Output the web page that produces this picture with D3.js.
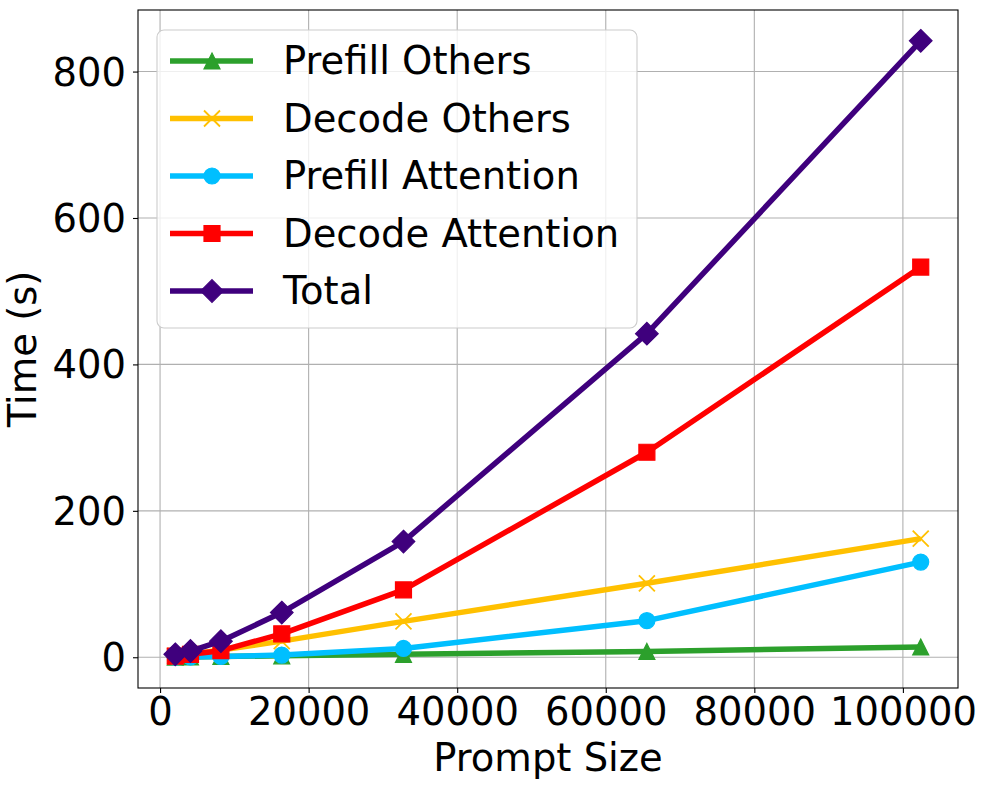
<!DOCTYPE html>
<html>
<head>
<meta charset="utf-8">
<script src="https://cdn.jsdelivr.net/npm/d3@7"></script>
<style>
  body { margin: 0; background: #fff; }
  svg { display: block; font-family: "DejaVu Sans", sans-serif; }
</style>
</head>
<body>
<div id="chart"></div>
<script>
const width = 986;
const height = 790;
const fontSize = "38.5px";

// data
const promptSizes = [2048, 4096, 8192, 16384, 32768, 65536, 102400];
const prefillOthers = [0.3, 0.5, 1, 2, 4, 8, 14];
const decodeOthers = [2, 4, 10, 22, 49, 101, 162];
const prefillAttention = [0.1, 0.3, 1, 3, 12, 50, 130];
const decodeAttention = [1.5, 4, 9, 32, 92, 280, 533];
const total = [4, 8.5, 22, 61, 158, 442, 842];

const xTicks = [0, 20000, 40000, 60000, 80000, 100000];
const yTicks = [0, 200, 400, 600, 800];

const series = [
  { name: "Prefill Others", values: prefillOthers, color: "#2ca02c", marker: "triangle" },
  { name: "Decode Others", values: decodeOthers, color: "#ffc000", marker: "x" },
  { name: "Prefill Attention", values: prefillAttention, color: "#00bfff", marker: "circle" },
  { name: "Decode Attention", values: decodeAttention, color: "#ff0000", marker: "square" },
  { name: "Total", values: total, color: "#3f007d", marker: "diamond" }
];

const margin = { top: 10, right: 28, bottom: 102, left: 138 };
const innerW = width - margin.left - margin.right;
const innerH = height - margin.top - margin.bottom;

const svg = d3.select("#chart")
  .append("svg")
  .attr("width", width)
  .attr("height", height);

const g = svg.append("g")
  .attr("transform", `translate(${margin.left},${margin.top})`);

// matplotlib-like 5% padding on both axes
const xMin = d3.min(promptSizes), xMax = d3.max(promptSizes);
const xPad = (xMax - xMin) * 0.05;
const allY = series.flatMap(s => s.values);
const yMin = d3.min(allY), yMax = d3.max(allY);
const yPad = (yMax - yMin) * 0.05;

const x = d3.scaleLinear().domain([xMin - xPad, xMax + xPad]).range([0, innerW]);
const y = d3.scaleLinear().domain([yMin - yPad, yMax + yPad]).range([innerH, 0]);

// grid
g.append("g")
  .selectAll("line")
  .data(xTicks)
  .join("line")
  .attr("x1", d => x(d)).attr("x2", d => x(d))
  .attr("y1", 0).attr("y2", innerH)
  .attr("stroke", "#b0b0b0").attr("stroke-width", 1.1);

g.append("g")
  .selectAll("line")
  .data(yTicks)
  .join("line")
  .attr("y1", d => y(d)).attr("y2", d => y(d))
  .attr("x1", 0).attr("x2", innerW)
  .attr("stroke", "#b0b0b0").attr("stroke-width", 1.1);

// axes
const xAxis = g.append("g")
  .attr("transform", `translate(0,${innerH})`)
  .call(d3.axisBottom(x).tickValues(xTicks).tickFormat(d3.format("d")).tickSize(5).tickSizeOuter(0));
const yAxis = g.append("g")
  .call(d3.axisLeft(y).tickValues(yTicks).tickFormat(d3.format("d")).tickSize(5).tickSizeOuter(0));

[xAxis, yAxis].forEach(a => {
  a.select(".domain").remove();
  a.selectAll(".tick line").attr("stroke", "#000").attr("stroke-width", 1.1);
  a.selectAll(".tick text")
    .attr("fill", "#000")
    .style("font-family", "DejaVu Sans")
    .style("font-size", fontSize);
});
xAxis.selectAll(".tick text").attr("y", 10).attr("dy", "0.71em");
yAxis.selectAll(".tick text").attr("x", -12).attr("dy", "0.35em");

// markers
function markerPath(type, s) {
  const r = s / 2;
  const p = d3.path();
  if (type === "triangle") {
    p.moveTo(0, -r); p.lineTo(r, r); p.lineTo(-r, r); p.closePath();
  } else if (type === "square") {
    p.rect(-r, -r, s, s);
  } else if (type === "diamond") {
    const d = r * Math.SQRT2;
    p.moveTo(0, -d); p.lineTo(d, 0); p.lineTo(0, d); p.lineTo(-d, 0); p.closePath();
  } else if (type === "circle") {
    p.arc(0, 0, r, 0, 2 * Math.PI);
  } else if (type === "x") {
    p.moveTo(-r, -r); p.lineTo(r, r); p.moveTo(r, -r); p.lineTo(-r, r);
  }
  return p.toString();
}

function drawMarker(sel, type, color) {
  sel.append("path")
    .attr("d", markerPath(type, 16))
    .attr("fill", type === "x" ? "none" : color)
    .attr("stroke", color)
    .attr("stroke-width", type === "x" ? 1.8 : 1.2)
    .attr("stroke-linejoin", "miter");
}

const line = d3.line()
  .x((d, i) => x(promptSizes[i]))
  .y(d => y(d));

series.forEach(s => {
  const sg = g.append("g");
  sg.append("path")
    .attr("d", line(s.values))
    .attr("fill", "none")
    .attr("stroke", s.color)
    .attr("stroke-width", 5.5)
    .attr("stroke-linejoin", "round");
  sg.selectAll("g.pt")
    .data(s.values)
    .join("g")
    .attr("class", "pt")
    .attr("transform", (d, i) => `translate(${x(promptSizes[i])},${y(d)})`)
    .each(function () { drawMarker(d3.select(this), s.marker, s.color); });
});

// frame
g.append("rect")
  .attr("width", innerW).attr("height", innerH)
  .attr("fill", "none").attr("stroke", "#000").attr("stroke-width", 1.1);

// axis labels
svg.append("text")
  .attr("x", margin.left + innerW / 2)
  .attr("y", 771)
  .attr("text-anchor", "middle")
  .style("font-size", fontSize)
  .text("Prompt Size");

svg.append("text")
  .attr("transform", `translate(36,${margin.top + innerH / 2}) rotate(-90)`)
  .attr("text-anchor", "middle")
  .style("font-size", fontSize)
  .text("Time (s)");

// legend
const legend = svg.append("g").attr("transform", "translate(157,30)");
legend.append("rect")
  .attr("width", 480).attr("height", 298)
  .attr("rx", 7)
  .attr("fill", "#fff").attr("fill-opacity", 0.8)
  .attr("stroke", "#cccccc").attr("stroke-width", 1.1);

const rows = legend.selectAll("g.row")
  .data(series)
  .join("g")
  .attr("class", "row")
  .attr("transform", (d, i) => `translate(0,${31 + i * 57.5})`);

rows.append("line")
  .attr("x1", 13).attr("x2", 96)
  .attr("stroke", d => d.color)
  .attr("stroke-width", 5.5);
rows.each(function (d) {
  const m = d3.select(this).append("g").attr("transform", "translate(55,0)");
  drawMarker(m, d.marker, d.color);
});
rows.append("text")
  .attr("x", 126)
  .attr("dy", "0.35em")
  .style("font-size", fontSize)
  .text(d => d.name);
</script>
</body>
</html>
